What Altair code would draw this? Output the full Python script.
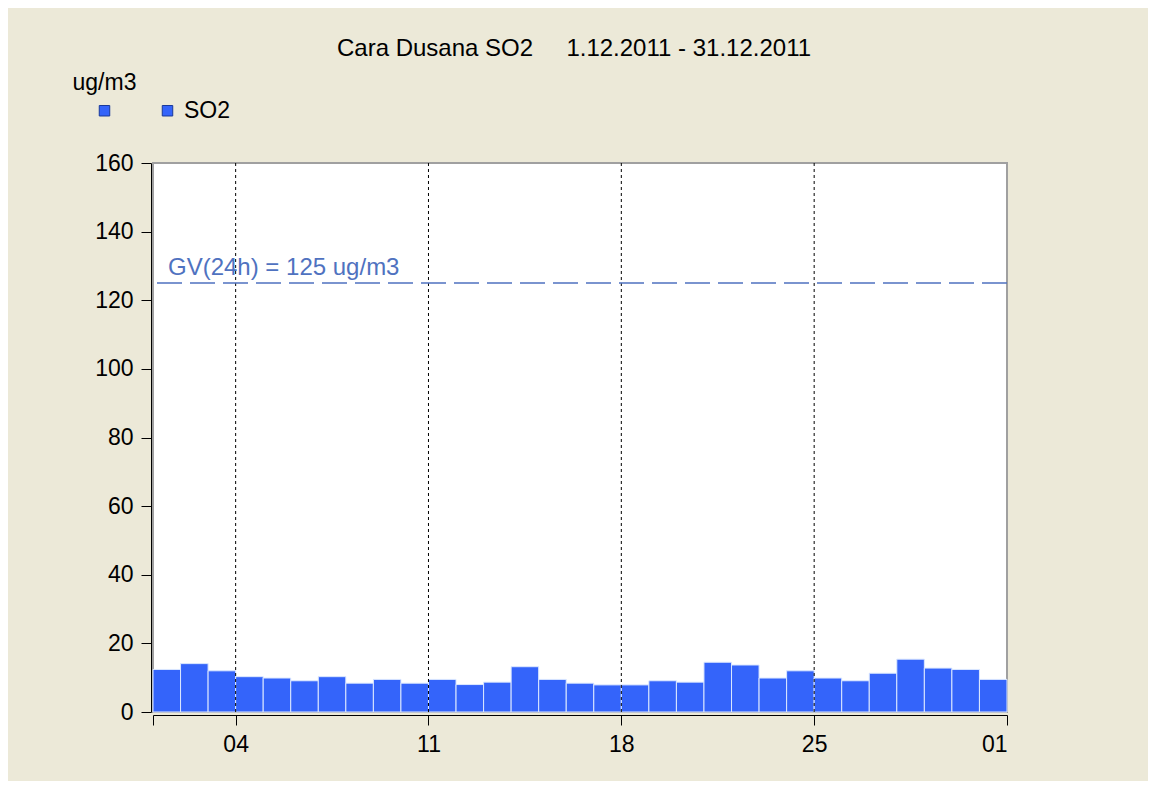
import altair as alt
import pandas as pd

# ---- data ----
days = list(range(1, 32))
so2 = [12.4, 14.1, 12.0, 10.3, 9.9, 9.1, 10.3, 8.4, 9.5, 8.4,
       9.5, 8.0, 8.7, 13.2, 9.5, 8.4, 7.9, 7.9, 9.1, 8.7,
       14.5, 13.7, 9.9, 12.0, 9.9, 9.1, 11.3, 15.4, 12.8, 12.4, 9.5]
tick_days = [1, 4, 11, 18, 25, 32]
tick_labels = ["", "04", "11", "18", "25", "01"]
grid_days = [4, 11, 18, 25]
y_ticks = [0, 20, 40, 60, 80, 100, 120, 140, 160]
limit_value = 125
limit_label = "GV(24h) = 125 ug/m3"
series_names = [" ", "SO2"]
title_text = "Cara Dusana SO2\u00a0\u00a0\u00a0\u00a0\u00a01.12.2011 - 31.12.2011"
unit_label = "ug/m3"

FONT = "Liberation Sans"
FS = 23
BLUE = "#3464FA"
GV_BLUE = "#4F72C0"
BG = "#ECE9D8"

df = pd.DataFrame({"day": days, "end": [d + 1 for d in days], "so2": so2,
                   "series": ["SO2"] * len(days)})
grid_df = pd.DataFrame({"day": grid_days})
gv_df = pd.DataFrame({"v": [limit_value], "label": [limit_label]})

label_expr = " : ".join(
    f"datum.value == {d} ? '{l}'" for d, l in zip(tick_days, tick_labels)
) + " : ''"

xscale = alt.Scale(domain=[1, 32], nice=False, zero=False)
yscale = alt.Scale(domain=[0, 160], nice=False)

bars = alt.Chart(df).mark_rect(stroke="#DCE8FF", strokeWidth=1).encode(
    x=alt.X("day:Q", scale=xscale,
            axis=alt.Axis(values=tick_days, labelExpr=label_expr, title=None,
                          grid=False, tickSize=10, tickColor="black",
                          domainColor="black", labelFontSize=FS, labelFont=FONT,
                          labelColor="black", labelPadding=8, offset=3)),
    x2="end:Q",
    y=alt.Y("so2:Q", scale=yscale,
            axis=alt.Axis(values=y_ticks, title=unit_label, titleAngle=0,
                          titleX=-79, titleY=-92, titleAlign="left",
                          titleBaseline="top", titleFontSize=FS,
                          titleFontWeight="normal", titleFont=FONT,
                          titleColor="black",
                          grid=False, tickSize=10, tickColor="black",
                          domainColor="black", labelFontSize=FS, labelFont=FONT,
                          labelColor="black", labelPadding=8, offset=2)),
    y2=alt.datum(0),
    color=alt.Color("series:N",
                    scale=alt.Scale(domain=series_names, range=[BLUE, BLUE]),
                    legend=alt.Legend(title=None, orient="none", legendX=-60,
                                      legendY=-64, direction="horizontal",
                                      symbolType="square", symbolSize=110,
                                      symbolStrokeColor="#1A3A9A",
                                      symbolStrokeWidth=1, symbolOpacity=1,
                                      labelFontSize=FS, labelFont=FONT,
                                      labelColor="black", labelOffset=5,
                                      columnPadding=35, padding=0)),
)

grid = alt.Chart(grid_df).mark_rule(color="black", strokeDash=[3, 3],
                                    strokeWidth=1).encode(
    x=alt.X("day:Q", scale=xscale)
)

gv_line = alt.Chart(gv_df).mark_rule(color=GV_BLUE, strokeDash=[25, 8],
                                     strokeWidth=1.5).encode(
    y=alt.Y("v:Q", scale=yscale)
)
gv_text = alt.Chart(gv_df).mark_text(align="left", baseline="bottom", dy=-3,
                                     fontSize=24, font=FONT, color=GV_BLUE).encode(
    x=alt.value(15),
    y=alt.Y("v:Q", scale=yscale),
    text="label:N",
)

chart = alt.layer(bars, grid, gv_line, gv_text).properties(
    width=854,
    height=549,
    padding={"left": 145, "top": 155, "right": 141, "bottom": 69},
    autosize=alt.AutoSizeParams(type="none"),
    background=BG,
    title=alt.TitleParams(title_text, anchor="middle", fontSize=24, font=FONT,
                          fontWeight="normal", color="black", offset=10,
                          dx=-6),
).configure_view(
    fill="white", stroke="#A0A0A0", strokeWidth=2
)

chart.save("out.html", embed_options={"renderer": "svg", "actions": False})
